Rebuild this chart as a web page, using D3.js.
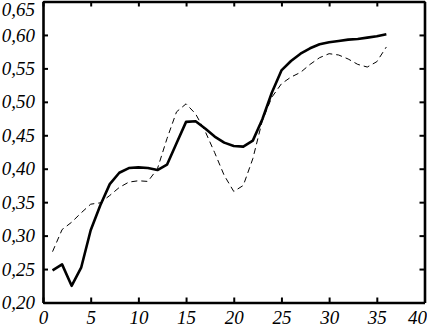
<!DOCTYPE html>
<html>
<head>
<meta charset="utf-8">
<script src="https://cdn.jsdelivr.net/npm/d3@7/dist/d3.min.js"></script>
<style>
  html, body { margin: 0; padding: 0; background: #fff; }
  svg { display: block; }
</style>
</head>
<body>
<svg id="chart" width="427" height="327"></svg>
<script>
var xs = d3.range(1, 37);

// thick solid series
var solidVals = [0.248, 0.257, 0.225, 0.252, 0.308, 0.345, 0.377, 0.394, 0.401, 0.402,
                 0.401, 0.398, 0.406, 0.438, 0.470, 0.471, 0.460, 0.448, 0.439, 0.434,
                 0.433, 0.442, 0.474, 0.514, 0.547, 0.561, 0.572, 0.580, 0.586, 0.589,
                 0.591, 0.593, 0.594, 0.596, 0.598, 0.601];

// thin dashed series
var dashVals = [0.276, 0.309, 0.320, 0.334, 0.347, 0.349, 0.360, 0.372, 0.380, 0.382,
                0.381, 0.400, 0.445, 0.485, 0.497, 0.482, 0.456, 0.424, 0.390, 0.366,
                0.375, 0.415, 0.472, 0.507, 0.527, 0.537, 0.544, 0.556, 0.566, 0.572,
                0.570, 0.564, 0.556, 0.552, 0.560, 0.582];

var xTicks = [0, 5, 10, 15, 20, 25, 30, 35, 40];
var yTicks = [0.20, 0.25, 0.30, 0.35, 0.40, 0.45, 0.50, 0.55, 0.60, 0.65];

var svg = d3.select("#chart");

var x = d3.scaleLinear().domain([0, 40]).range([43, 424.5]);
var y = d3.scaleLinear().domain([0.20, 0.65]).range([302.5, 1.5]);

var fmt = function(d) { return d3.format(".2f")(d).replace(".", ","); };

// axis groups get serif italic labels instead of d3's sans-serif default
function axisG(tr) {
    return svg.append("g")
        .attr("transform", tr)
        .attr("font-family", "Liberation Serif")
        .attr("font-style", "italic")
        .attr("font-size", 19);
}

// bottom + top
axisG("translate(0," + y(0.20) + ")")
    .call(d3.axisBottom(x).tickValues(xTicks).tickSize(-5).tickSizeOuter(0).tickPadding(8))
    .attr("font-family", "Liberation Serif").attr("font-size", 19)
    .selectAll("text")
    .attr("fill", "#000")
    .attr("x", function(d) { return Math.min(x(d), 417) - x(d); });

axisG("translate(0," + y(0.65) + ")")
    .call(d3.axisTop(x).tickValues(xTicks).tickSize(-5).tickSizeOuter(0).tickFormat(""));

// left + right
axisG("translate(" + x(0) + ",0)")
    .call(d3.axisLeft(y).tickValues(yTicks).tickSize(-5).tickSizeOuter(0).tickPadding(8).tickFormat(fmt))
    .attr("font-family", "Liberation Serif").attr("font-size", 19)
    .selectAll("text")
    .attr("fill", "#000")
    .attr("y", function(d) { return Math.max(y(d), 9) - y(d); });

axisG("translate(" + x(40) + ",0)")
    .call(d3.axisRight(y).tickValues(yTicks).tickSize(-5).tickSizeOuter(0).tickFormat(""));

svg.selectAll(".domain").attr("stroke", "#000").attr("stroke-width", 2.6);
svg.selectAll(".tick line").attr("stroke", "#000").attr("stroke-width", 2);

var line = d3.line()
    .x(function(d) { return x(d[0]); })
    .y(function(d) { return y(d[1]); });

svg.append("path")
    .datum(d3.zip(xs, dashVals))
    .attr("fill", "none")
    .attr("stroke", "#000")
    .attr("stroke-width", 1)
    .attr("stroke-dasharray", "6,4")
    .attr("d", line);

svg.append("path")
    .datum(d3.zip(xs, solidVals))
    .attr("fill", "none")
    .attr("stroke", "#000")
    .attr("stroke-width", 2.6)
    .attr("stroke-linejoin", "round")
    .attr("d", line);
</script>
</body>
</html>
